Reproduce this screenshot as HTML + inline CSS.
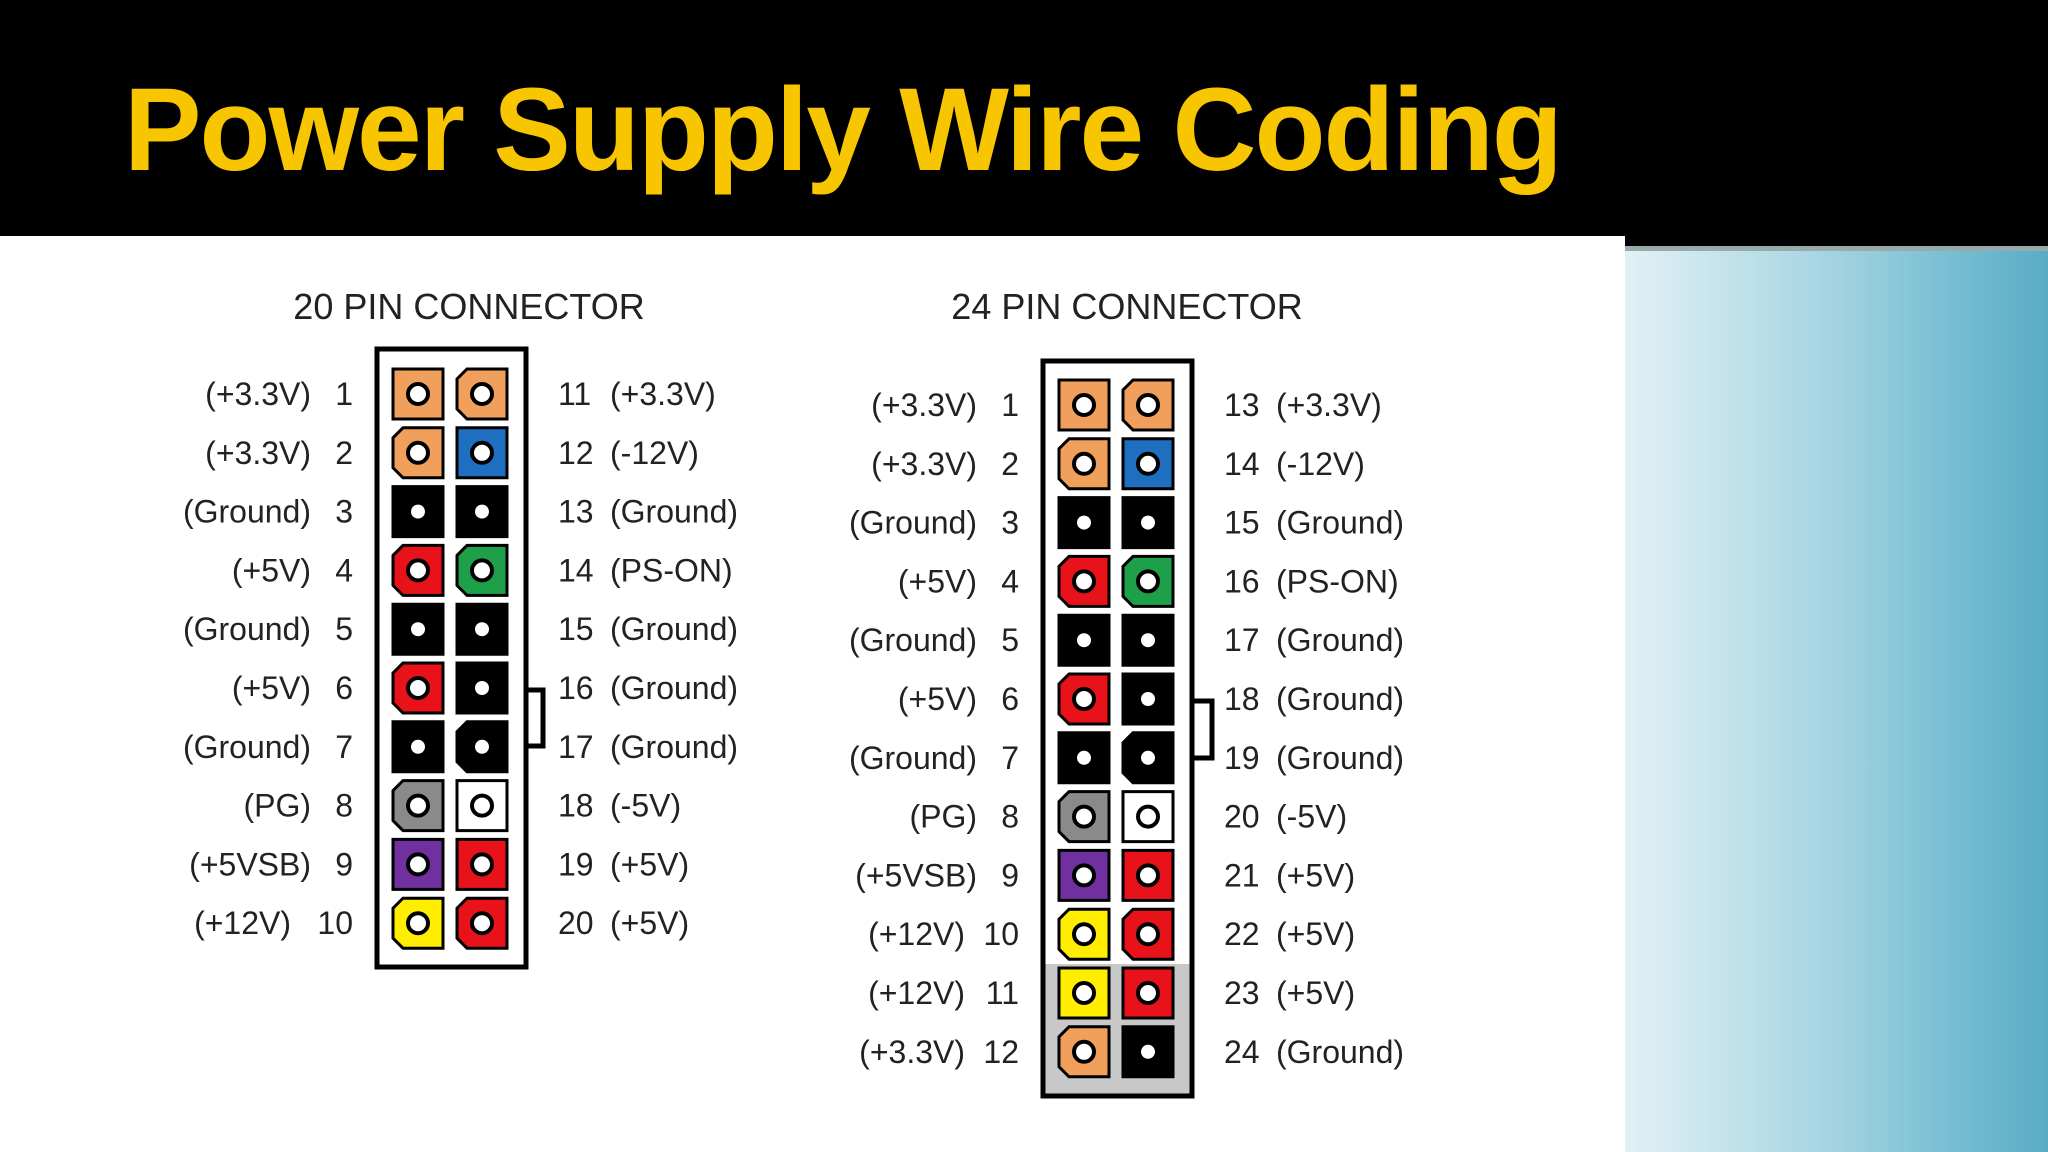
<!DOCTYPE html>
<html><head><meta charset="utf-8"><style>
html,body{margin:0;padding:0;}
body{width:2048px;height:1152px;overflow:hidden;position:relative;background:#fff;font-family:"Liberation Sans",sans-serif;}
#hdr{position:absolute;left:0;top:0;width:2048px;height:236px;background:#000;}
#hdr2{position:absolute;left:1625px;top:236px;width:423px;height:10px;background:#000;}
#line{position:absolute;left:1625px;top:246px;width:423px;height:5px;background:#9aa;}
#teal{position:absolute;left:1625px;top:251px;width:423px;height:901px;background:linear-gradient(90deg,#e2f1f5 0%,#a9d6e3 45%,#6cb8cf 85%,#5aacc6 100%);}
#title{position:absolute;left:124px;top:62px;font-family:"Liberation Sans",sans-serif;font-weight:bold;font-size:118px;color:#f7c600;white-space:nowrap;transform-origin:0 0;transform:scaleX(0.985);letter-spacing:-2px;}
svg{position:absolute;left:0;top:0;}
</style></head><body>
<div id="hdr"></div><div id="hdr2"></div><div id="line"></div><div id="teal"></div>
<div id="title">Power Supply Wire Coding</div>
<svg id="s" width="2048" height="1152" viewBox="0 0 2048 1152" font-family="Liberation Sans, sans-serif" fill="#222">
<text x="469" y="319" font-size="36" text-anchor="middle">20 PIN CONNECTOR</text>
<text x="1127" y="319" font-size="36" text-anchor="middle">24 PIN CONNECTOR</text>
<rect x="377" y="349" width="149" height="618" fill="#fff" stroke="#000" stroke-width="5"/>
<rect x="1043" y="964" width="149" height="132" fill="#c8c8c8"/>
<rect x="1043" y="361" width="149" height="735" fill="none" stroke="#000" stroke-width="5"/>
<path d="M528 690 H543 V746 H528" fill="none" stroke="#000" stroke-width="5"/>
<path d="M1194 701 H1212 V758 H1194" fill="none" stroke="#000" stroke-width="5"/>
<g id="g"></g>
</svg>
<script>
var C={o:"#f0a05a",b:"#1f6fc0",k:"#000",r:"#e8121a",g:"#1ea04a",y:"#8a8a8a",w:"#fff",p:"#7030a0",e:"#ffee00"};
var g=document.getElementById('g'),h='';
function pin(cx,cy,col,ch){
 var s=25,c=10,x0=cx-s,x1=cx+s,y0=cy-s,y1=cy+s,pts;
 if(ch) pts=[[x0+c,y0],[x1,y0],[x1,y1],[x0+c,y1],[x0,y1-c],[x0,y0+c]];
 else pts=[[x0,y0],[x1,y0],[x1,y1],[x0,y1]];
 h+='<polygon points="'+pts.map(function(p){return p.join(',')}).join(' ')+'" fill="'+C[col]+'" stroke="#000" stroke-width="3"/>';
 if(col=='k') h+='<circle cx="'+cx+'" cy="'+cy+'" r="7" fill="#fff"/>';
 else h+='<circle cx="'+cx+'" cy="'+cy+'" r="10" fill="#fff" stroke="#000" stroke-width="4"/>';
}
function t(x,y,s,a){h+='<text x="'+x+'" y="'+y+'" font-size="32" text-anchor="'+a+'">'+s+'</text>';}
var L20="o o k r k r k y p e".split(' '),R20="o b k g k k k w r r".split(' ');
var LL20=["(+3.3V)","(+3.3V)","(Ground)","(+5V)","(Ground)","(+5V)","(Ground)","(PG)","(+5VSB)","(+12V)"];
var RL20=["(+3.3V)","(-12V)","(Ground)","(PS-ON)","(Ground)","(Ground)","(Ground)","(-5V)","(+5V)","(+5V)"];
for(var i=0;i<10;i++){var cy=394+58.8*i;
 pin(418,cy,L20[i],i%2==1);pin(482,cy,R20[i],i%3==0);
 t(i>=9?291:311,cy+11,LL20[i],'end');t(353,cy+11,String(i+1),'end');
 t(558,cy+11,String(i+11),'start');t(610,cy+11,RL20[i],'start');}
var L24="o o k r k r k y p e e o".split(' '),R24="o b k g k k k w r r r k".split(' ');
var LL24=LL20.concat(["(+12V)","(+3.3V)"]);
var RL24=RL20.slice(0,10).concat(["(+5V)","(Ground)"]);
for(var i=0;i<12;i++){var cy=405+58.8*i;
 pin(1084,cy,L24[i],i%2==1);pin(1148,cy,R24[i],i%3==0);
 t(i>=9?965:977,cy+11,LL24[i],'end');t(1019,cy+11,String(i+1),'end');
 t(1224,cy+11,String(i+13),'start');t(1276,cy+11,RL24[i],'start');}
g.innerHTML=h;
</script>
</body></html>
